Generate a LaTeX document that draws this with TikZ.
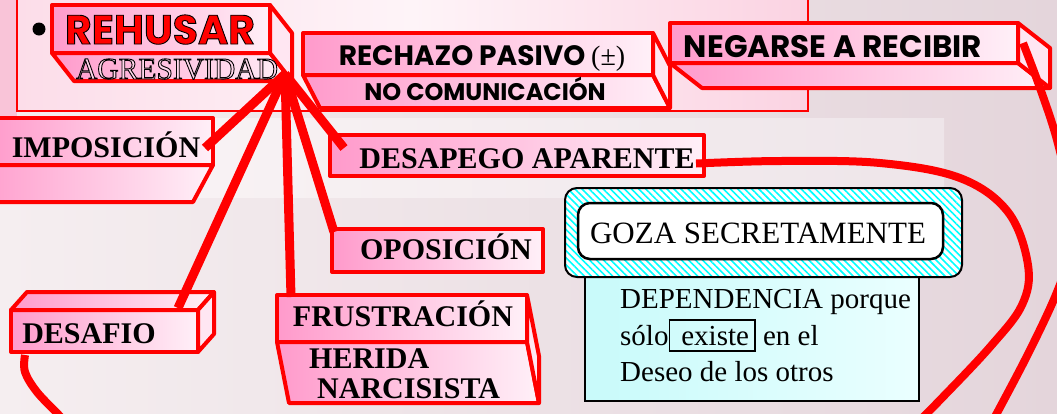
\documentclass[tikz,border=0pt]{standalone}
\usepackage{fontspec}
\setmainfont{Liberation Serif}
\newfontfamily\deco{Poppins}
\newfontfamily\decob{Poppins}[BoldFeatures={FakeBold=2.2}]
\newfontfamily\agrfont{Liberation Serif}[FakeBold=3]
\usetikzlibrary{calc,patterns.meta}
\definecolor{bpink}{HTML}{FF9ACB}
\definecolor{bwhite}{HTML}{FFF0F8}
\definecolor{bgL}{HTML}{F5EEF0}
\definecolor{bgR}{HTML}{E4D5DB}
\definecolor{topL}{HTML}{F9C4D8}
\definecolor{topA}{HTML}{FCDDE9}
\definecolor{topM}{HTML}{FEF4F8}
\definecolor{topR}{HTML}{FBD3E2}
\definecolor{bandL}{HTML}{FBF6F7}
\definecolor{bandR}{HTML}{EEE5E9}
\definecolor{lcyan}{HTML}{C8FAFA}
\definecolor{lcyan2}{HTML}{EAFFFF}
\definecolor{sidepink}{HTML}{FFE6F2}
\definecolor{agrpink}{HTML}{FFD6EA}
\newcommand{\blackstroke}{\special{pdf:code 0 0 0 RG}}
\tikzset{
  face/.style={draw=red, line width=4pt, line join=round, left color=bpink, right color=bwhite},
  sideface/.style={draw=red, line width=4pt, line join=round, fill=sidepink},
  boxnode/.style={face, rectangle, inner sep=0pt, outer sep=0pt, anchor=north west},
  lbl/.style={inner sep=0pt, anchor=base, font=\fontsize{30}{32}\selectfont\bfseries, text=black},
  decolbl/.style={inner sep=0pt, anchor=base, font=\deco\bfseries\fontsize{26}{28}\selectfont},
  deptext/.style={inner sep=0pt, anchor=base west, font=\fontsize{29}{30}\selectfont},
  conn/.style={draw=red, line width=9pt},
  loopline/.style={draw=red, line width=8pt},
}
\begin{document}
\begin{tikzpicture}[x=1pt,y=-1pt]
\useasboundingbox (0,0) rectangle (1057,413);
\clip (0,0) rectangle (1057,413);
% background
\fill[left color=bgL, right color=bgR] (0,0) rectangle (1057,413);
\fill[topL] (0,0) rectangle (17,118);
\fill[left color=topA, right color=topR, middle color=topM] (17,0) rectangle (808,111);
\fill[left color=bandL, right color=bandR] (0,118) rectangle (944,197);
\draw[red, line width=2.5pt] (17,-5) -- (17,111) -- (808,111) -- (808,-5);
% bullet
\node[circle, fill=black, inner sep=0pt, minimum size=13pt] (bul) at (39,29) {};
% REHUSAR box
\node[boxnode, minimum width=218pt, minimum height=48pt] (reh) at (52,5) {};
\draw[face] (reh.south west) -- (reh.south east) -- ++(22,28) -- ++(-218,0) -- cycle;
\draw[sideface] (reh.north east) -- ++(22,28) -- ++(0,48) -- (reh.south east) -- cycle;
\node[inner sep=0pt, anchor=base, font=\decob\bfseries\fontsize{41}{43}\selectfont] (rehT) at (160,44) {\textcolor{red}{\blackstroke REHUSAR}};
\node[inner sep=0pt, anchor=base, font=\agrfont\fontsize{29}{29}\selectfont] (agr) at (177,79) {\scalebox{1.02}[1.05]{\textcolor{agrpink}{\blackstroke AGRESIVIDAD}}};
% RECHAZO box
\node[boxnode, minimum width=350pt, minimum height=42pt] (rec) at (303,33) {};
\draw[face] (rec.south west) -- (rec.south east) -- ++(17,33) -- ++(-350,0) -- cycle;
\draw[sideface] (rec.north east) -- ++(17,33) -- ++(0,42) -- (rec.south east) -- cycle;
\node[decolbl, font=\deco\bfseries\fontsize{28}{30}\selectfont] (recT) at (482,65) {RECHAZO PASIVO {\rmfamily\mdseries(±)}};
\node[decolbl, font=\deco\bfseries\fontsize{24}{26}\selectfont] (noc) at (485,100) {NO COMUNICACIÓN};
% NEGARSE box
\node[boxnode, minimum width=348pt, minimum height=40pt] (neg) at (670,23) {};
\draw[face] (neg.south west) -- (neg.south east) -- ++(32,25) -- ++(-348,0) -- cycle;
\draw[sideface] (neg.north east) -- ++(32,25) -- ++(0,40) -- (neg.south east) -- cycle;
\node[decolbl, font=\deco\bfseries\fontsize{31}{33}\selectfont] (negT) at (833,57) {NEGARSE A RECIBIR};
% IMPOSICION
\node[boxnode, minimum width=225pt, minimum height=47pt] (imp) at (-12,118) {};
\draw[face] (imp.south west) -- (imp.south east) -- ++(-20,37) -- ++(-225,0) -- cycle;
\node[lbl] (impT) at (106,157) {IMPOSICIÓN};
% DESAPEGO
\node[boxnode, minimum width=374pt, minimum height=41pt] (desp) at (330,135) {};
\node[lbl] (despT) at (527,168) {DESAPEGO APARENTE};
% OPOSICION
\node[boxnode, minimum width=211pt, minimum height=43pt] (opo) at (332,229) {};
\node[lbl] (opoT) at (446,259) {OPOSICIÓN};
% DESAFIO
\node[boxnode, minimum width=187pt, minimum height=42pt] (dsf) at (11,310) {};
\draw[face] (dsf.north west) -- ++(16,-18) -- ++(187,0) -- (dsf.north east) -- cycle;
\draw[sideface] (dsf.north east) -- ++(16,-18) -- ++(0,42) -- (dsf.south east) -- cycle;
\node[lbl] (dsfT) at (89,343) {DESAFIO};
% FRUSTRACION
\node[boxnode, minimum width=250pt, minimum height=47pt] (fru) at (277,295) {};
\draw[face] (fru.south west) -- (fru.south east) -- ++(12,61) -- ++(-250,0) -- cycle;
\draw[sideface] (fru.north east) -- ++(12,61) -- ++(0,47) -- (fru.south east) -- cycle;
\node[lbl] (fruT) at (403,326) {FRUSTRACIÓN};
\node[lbl, anchor=base west] (herT) at (309,368) {HERIDA};
\node[lbl, anchor=base west] (narT) at (317,398) {NARCISISTA};
% DEPENDENCIA box
\node[draw=black, line width=2.5pt, left color=lcyan, right color=lcyan2, inner sep=0pt, outer sep=0pt, minimum width=334pt, minimum height=124pt, anchor=north west] (dep) at (585,277) {};
\node[deptext] (l1) at (620,308) {DEPENDENCIA porque};
\node[deptext] (l2) at (620,345) {sólo\setlength{\fboxsep}{5pt}\setlength{\fboxrule}{1.8pt}\fbox{\hspace{6pt}existe} en el};
\node[deptext] (l3) at (620,381) {Deseo de los otros};
% GOZA
\node[draw=black, line width=2pt, rounded corners=12pt, preaction={fill=white}, pattern={Lines[angle=-45,distance=5pt,line width=1.6pt]}, pattern color=cyan, inner sep=0pt, outer sep=0pt, minimum width=397pt, minimum height=89pt, anchor=north west] (gozaO) at (565,188) {};
\node[draw=black, line width=2.5pt, rounded corners=12pt, fill=white, inner sep=0pt, outer sep=0pt, minimum width=365pt, minimum height=56pt, anchor=north west] (goza) at (578,203) {};
\node[inner sep=0pt, anchor=base, font=\fontsize{31}{32}\selectfont] (gozaT) at (758,243) {GOZA SECRETAMENTE};
% connectors
\coordinate (hub) at (285,74);
\draw[conn] (hub) -- ($(imp.north east)+(-8,30)$);
\draw[conn] (hub) -- ($(desp.north west)+(14,13)$);
\draw[conn] (hub) -- ($(opo.north west)+(2,3)$);
\draw[conn] (hub) -- ($(dsf.north east)+(-20,-2)$);
\draw[conn] (hub) -- ($(fru.north west)+(14,2)$);
% loops
\coordinate (dstart) at ($(desp.east)+(-8,8)$);
\draw[loopline] plot[smooth, tension=0.6] coordinates {(dstart) (780,161) (880,163) (960,178) (1008,212) (1028,265) (1022,305) (990,347) (940,400) (915,425)};
\coordinate (nstart) at ($(neg.north east)+(5,20)$);
\draw[loopline] plot[smooth, tension=0.6] coordinates {(nstart) (1040,88) (1057,140) (1070,200) (1070,250) (1057,292) (1030,350) (997,413) (990,425)};
\coordinate (dsfb) at ($(dsf.south west)+(14,3)$);
\draw[loopline] plot[smooth, tension=0.6] coordinates {(dsfb) (25,372) (37,392) (57,413) (65,422)};
\coordinate (frub) at ($(fru.south west)+(28,106)$);
\draw[loopline] (frub) -- ++(30,18);
\end{tikzpicture}
\end{document}
